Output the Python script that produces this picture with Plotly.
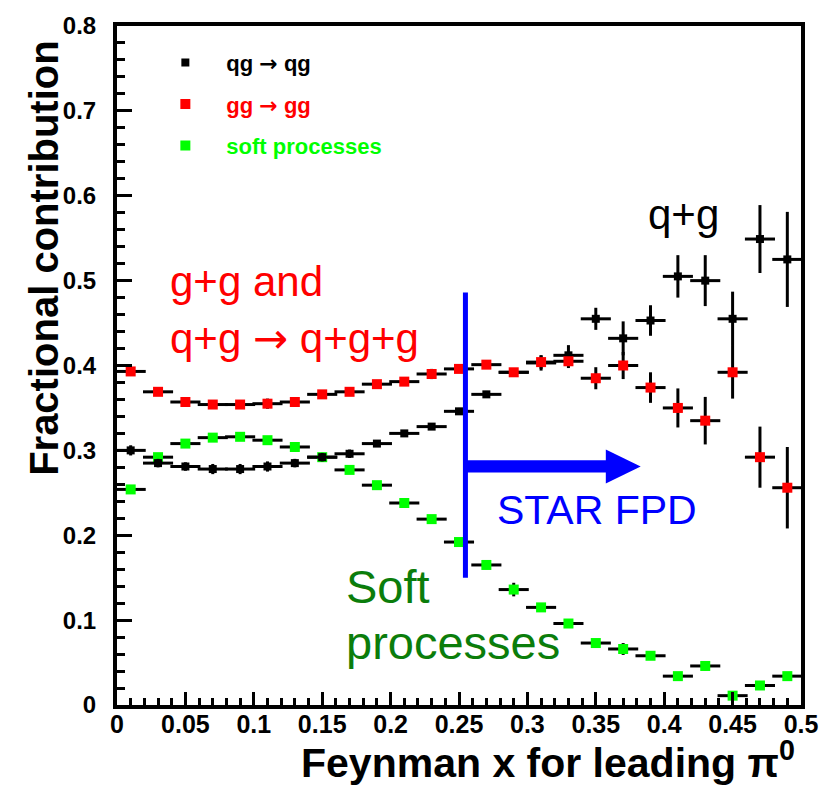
import plotly.graph_objects as go

# ---------------- data ----------------
x_feynman = [0.01, 0.03, 0.05, 0.07, 0.09, 0.11, 0.13, 0.15, 0.17, 0.19, 0.21, 0.23, 0.25,
             0.27, 0.29, 0.31, 0.33, 0.35, 0.37, 0.39, 0.41, 0.43, 0.45, 0.47, 0.49]
bin_half_width = [0.011] * 25

qg_frac = [0.300, 0.285, 0.281, 0.278, 0.278, 0.281, 0.285, 0.292, 0.296, 0.308, 0.320, 0.328, 0.346,
           0.366, 0.392, 0.403, 0.412, 0.455, 0.432, 0.453, 0.505, 0.500, 0.455, 0.549, 0.525]
qg_err = [0.006, 0.005, 0.005, 0.006, 0.006, 0.006, 0.005, 0.005, 0.005, 0.004, 0.004, 0.004, 0.004,
          0.004, 0.004, 0.009, 0.012, 0.013, 0.020, 0.018, 0.025, 0.030, 0.032, 0.040, 0.056]

gg_frac = [0.393, 0.369, 0.357, 0.354, 0.354, 0.355, 0.357, 0.366, 0.369, 0.378, 0.381, 0.390, 0.396,
           0.401, 0.392, 0.404, 0.405, 0.385, 0.400, 0.374, 0.350, 0.335, 0.392, 0.292, 0.256]
gg_err = [0.003, 0.003, 0.003, 0.004, 0.004, 0.006, 0.004, 0.004, 0.004, 0.004, 0.004, 0.006, 0.004,
          0.004, 0.005, 0.008, 0.008, 0.013, 0.016, 0.018, 0.023, 0.028, 0.031, 0.036, 0.048]

soft_frac = [0.254, 0.292, 0.308, 0.315, 0.316, 0.312, 0.304, 0.292, 0.277, 0.259, 0.238, 0.219, 0.192,
             0.165, 0.136, 0.115, 0.096, 0.073, 0.066, 0.058, 0.034, 0.046, 0.011, 0.023, 0.034]
soft_err = [0.003, 0.003, 0.003, 0.004, 0.004, 0.003, 0.003, 0.003, 0.003, 0.003, 0.003, 0.003, 0.003,
            0.003, 0.008, 0.004, 0.003, 0.003, 0.007, 0.004, 0.003, 0.005, 0.004, 0.003, 0.003]

x_tickvals = [0, 0.05, 0.1, 0.15, 0.2, 0.25, 0.3, 0.35, 0.4, 0.45, 0.5]
x_ticktext = ["0", "0.05", "0.1", "0.15", "0.2", "0.25", "0.3", "0.35", "0.4", "0.45", "0.5"]
y_tickvals = [0, 0.1, 0.2, 0.3, 0.4, 0.5, 0.6, 0.7, 0.8]
y_ticktext = ["0", "0.1", "0.2", "0.3", "0.4", "0.5", "0.6", "0.7", "0.8"]

# FPD acceptance marker (data coordinates)
fpd_x = 0.2547
fpd_y_low, fpd_y_high = 0.150, 0.486
arrow_y, arrow_base, arrow_tip = 0.2811, 0.3573, 0.3828

RED = "#ff0000"
GREEN = "#00ff00"
BLUE = "#0000ff"
DARKGREEN = "#0b7d0b"
TEXTFONT = "Arial, Liberation Sans, sans-serif"
ARROW = "<span style='font-family:DejaVu Sans'>→</span>"

fig = go.Figure()

def add_series(y, err, color, size, name, rank):
    fig.add_trace(go.Scatter(
        x=x_feynman, y=y, mode="markers", name=name, legendrank=rank,
        legendgroup=name,
        marker=dict(symbol="square", size=size, color=color, line=dict(width=0)),
        error_x=dict(type="data", array=bin_half_width, color="black", thickness=3, width=0),
        error_y=dict(type="data", array=err, color="black", thickness=3, width=0),
    ))

add_series(soft_frac, soft_err, GREEN, 10,
           "<span style='color:#00ff00'><b>soft processes</b></span>", 3)
add_series(qg_frac, qg_err, "black", 8, f"<b>qg {ARROW} qg</b>", 1)
add_series(gg_frac, gg_err, RED, 10,
           f"<span style='color:#ff0000'><b>gg {ARROW} gg</b></span>", 2)

# ---------------- shapes (STAR FPD arrow) ----------------
shapes = [
    dict(type="line", xref="x", yref="y", x0=fpd_x, x1=fpd_x, y0=fpd_y_low, y1=fpd_y_high,
         line=dict(color=BLUE, width=5)),
    dict(type="rect", xref="x", yref="y", x0=fpd_x, x1=arrow_base + 0.002,
         y0=arrow_y - 0.0072, y1=arrow_y + 0.0072, fillcolor=BLUE, line=dict(width=0)),
    dict(type="path", xref="x", yref="y",
         path=f"M {arrow_base},{arrow_y + 0.020} L {arrow_tip},{arrow_y} L {arrow_base},{arrow_y - 0.020} Z",
         fillcolor=BLUE, line=dict(width=0)),
]

annotations = [
    dict(x=0.0371, y=0.499, xref="x", yref="y", text="g+g and", showarrow=False,
         xanchor="left", yanchor="middle", font=dict(family=TEXTFONT, size=42, color=RED)),
    dict(x=0.0371, y=0.432, xref="x", yref="y", text=f"q+g {ARROW} q+g+g", showarrow=False,
         xanchor="left", yanchor="middle", font=dict(family=TEXTFONT, size=42, color=RED)),
    dict(x=0.3865, y=0.5775, xref="x", yref="y", text="q+g", showarrow=False,
         xanchor="left", yanchor="middle", font=dict(family=TEXTFONT, size=42, color="black")),
    dict(x=0.2766, y=0.2296, xref="x", yref="y", text="STAR FPD", showarrow=False,
         xanchor="left", yanchor="middle", font=dict(family=TEXTFONT, size=41, color=BLUE)),
    dict(x=0.166, y=0.1394, xref="x", yref="y", text="Soft", showarrow=False,
         xanchor="left", yanchor="middle", font=dict(family=TEXTFONT, size=47, color=DARKGREEN)),
    dict(x=0.166, y=0.0738, xref="x", yref="y", text="processes", showarrow=False,
         xanchor="left", yanchor="middle", font=dict(family=TEXTFONT, size=47, color=DARKGREEN)),
    # axis titles
    dict(x=-0.1077, y=0.659, xref="paper", yref="paper", text="<b>Fractional contribution</b>",
         textangle=-90, showarrow=False, xanchor="center", yanchor="middle",
         font=dict(family=TEXTFONT, size=40, color="black")),
    dict(x=0.994, y=-0.081, xref="paper", yref="paper",
         text="<b>Feynman x for leading π<sup>0</sup></b>", showarrow=False,
         xanchor="right", yanchor="middle", font=dict(family=TEXTFONT, size=41, color="black")),
]

axis_common = dict(
    showgrid=False, zeroline=False, showline=True, linecolor="black", linewidth=4,
    mirror=True, ticks="inside", tickcolor="black", tickwidth=3,
)

fig.update_xaxes(range=[0, 0.5], tickvals=x_tickvals, ticktext=x_ticktext, ticklen=13,
                 minor=dict(ticks="inside", dtick=0.01, ticklen=7, tickwidth=3, tickcolor="black"),
                 ticklabelstandoff=-6,
                 tickfont=dict(family=TEXTFONT, size=25, color="black", weight="bold"),
                 **axis_common)
fig.update_yaxes(range=[0, 0.8], tickvals=y_tickvals, ticktext=y_ticktext, ticklen=15,
                 minor=dict(ticks="inside", dtick=0.02, ticklen=8, tickwidth=3, tickcolor="black"),
                 ticklabelstandoff=12,
                 tickfont=dict(family=TEXTFONT, size=24, color="black", weight="bold"),
                 **axis_common)

fig.update_layout(
    width=830, height=791,
    margin=dict(l=117, r=26, t=22, b=86, pad=0),
    paper_bgcolor="white", plot_bgcolor="white",
    shapes=shapes, annotations=annotations,
    showlegend=True,
    legend=dict(x=0.04, y=0.977, xanchor="left", yanchor="top", bgcolor="rgba(0,0,0,0)",
                itemwidth=72, tracegroupgap=10,
                font=dict(family=TEXTFONT, size=22, color="black")),
)

fig.write_html("out.html")
